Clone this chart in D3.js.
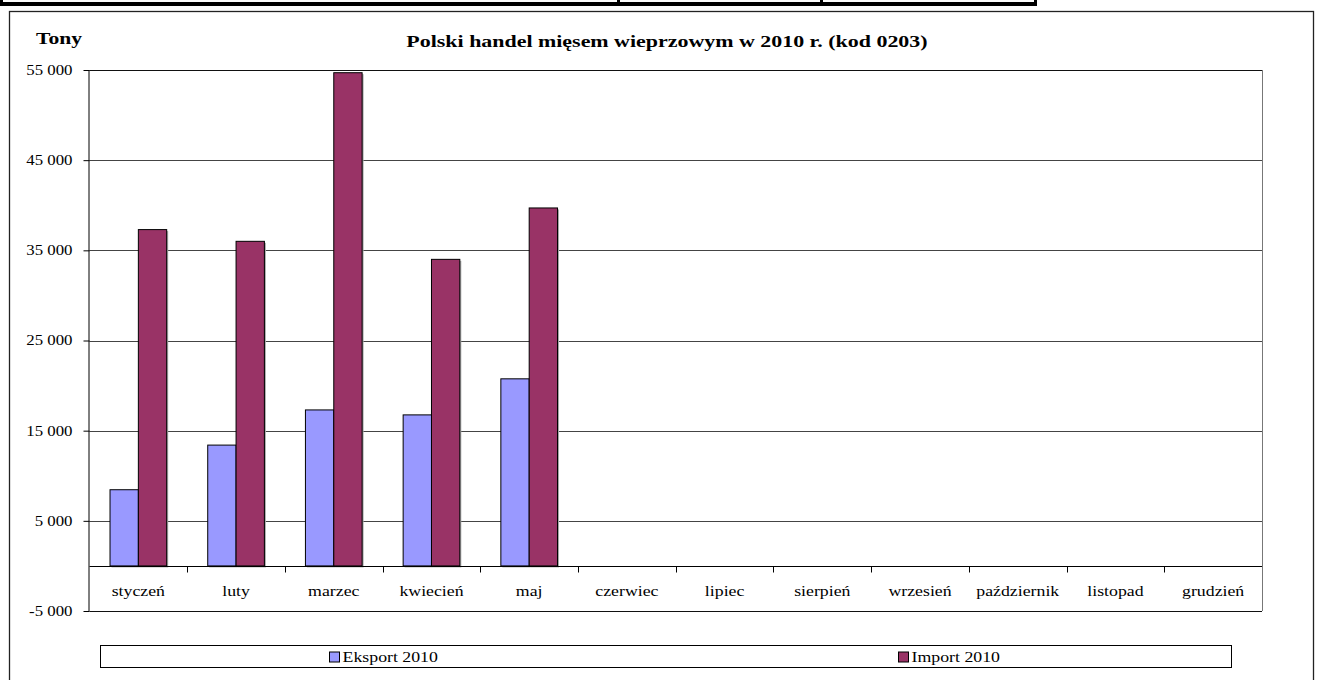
<!DOCTYPE html>
<html>
<head>
<meta charset="utf-8">
<script src="https://cdn.jsdelivr.net/npm/d3@7"></script>
<style>
  body { margin: 0; background: #fff; }
  svg text { font-family: "Liberation Serif", "Times New Roman", serif; fill: #000; }
</style>
</head>
<body>
<div id="chart"></div>
<script>
const width = 1319;
const height = 680;

// data (tonnes)
const months = ["styczeń", "luty", "marzec", "kwiecień", "maj", "czerwiec",
    "lipiec", "sierpień", "wrzesień", "październik", "listopad", "grudzień"];
const exportValues = [8450, 13400, 17300, 16750, 20750, null, null, null, null, null, null, null];
const importValues = [37300, 36000, 54700, 34000, 39700, null, null, null, null, null, null, null];
const seriesNames = ["Eksport 2010", "Import 2010"];
const seriesColors = ["#9999ff", "#993366"];
const yTicks = [-5000, 5000, 15000, 25000, 35000, 45000, 55000];

const svg = d3.select("#chart")
    .append("svg")
    .attr("width", width)
    .attr("height", height)
    .style("font-family", "'Liberation Serif', 'Times New Roman', serif");

// the original text is a bit wider than Times at the same height
function stretch(sel, k) {
    sel.each(function() {
        const len = this.getComputedTextLength();
        d3.select(this)
            .attr("textLength", len * k)
            .attr("lengthAdjust", "spacingAndGlyphs");
    });
}

// strip of the table above the chart
svg.append("rect").attr("x", 0).attr("y", 2).attr("width", 1037).attr("height", 4).attr("fill", "#000");
[0, 617, 820, 1034].forEach(x => {
    svg.append("rect").attr("x", x).attr("y", 0).attr("width", 3).attr("height", 6).attr("fill", "#000");
});

// outer chart frame
svg.append("rect")
    .attr("x", 9.5).attr("y", 11.5)
    .attr("width", 1304).attr("height", 700)
    .attr("fill", "none")
    .attr("stroke", "#222")
    .attr("stroke-width", 1.3);

const plot = { left: 89.5, right: 1262, top: 70, bottom: 611 };

const x = d3.scaleBand()
    .domain(months)
    .range([plot.left, plot.right])
    .paddingInner(0.42)
    .paddingOuter(0.21);

const xSub = d3.scaleBand()
    .domain([0, 1])
    .range([0, x.bandwidth()]);

const y = d3.scaleLinear()
    .domain([-5000, 55000])
    .range([plot.bottom, plot.top]);

// gridlines
svg.append("g")
    .selectAll("line")
    .data(yTicks)
    .join("line")
    .attr("x1", plot.left)
    .attr("x2", plot.right)
    .attr("y1", d => Math.round(y(d)) + 0.5)
    .attr("y2", d => Math.round(y(d)) + 0.5)
    .attr("stroke", (d, i) => i === 0 || i === yTicks.length - 1 ? "#111" : "#444")
    .attr("stroke-width", 1);

// right border of plot area
svg.append("line")
    .attr("x1", plot.right + 0.5).attr("x2", plot.right + 0.5)
    .attr("y1", plot.top).attr("y2", plot.bottom)
    .attr("stroke", "#777");

// bars
const groups = months.map((m, i) => ({ month: m, values: [exportValues[i], importValues[i]] }));

const g = svg.append("g")
    .selectAll("g")
    .data(groups)
    .join("g")
    .attr("transform", d => `translate(${x(d.month)},0)`);

const bars = g.selectAll("g")
    .data(d => d.values.map((v, k) => ({ k, v })).filter(e => e.v !== null))
    .join("g");

// faint shadow on the right side
bars.append("rect")
    .attr("x", d => xSub(d.k) + 1.5)
    .attr("y", d => y(d.v) + 1.5)
    .attr("width", xSub.bandwidth())
    .attr("height", d => y(0) - y(d.v))
    .attr("fill", "#aaa");

bars.append("rect")
    .attr("x", d => xSub(d.k))
    .attr("y", d => y(d.v))
    .attr("width", xSub.bandwidth())
    .attr("height", d => y(0) - y(d.v))
    .attr("fill", d => seriesColors[d.k])
    .attr("stroke", "#000")
    .attr("stroke-width", 1);

// y axis
const yAxis = d3.axisLeft(y)
    .tickValues(yTicks)
    .tickSize(6)
    .tickPadding(11)
    .tickFormat(d => d3.format(",")(d).replace(/,/g, " ").replace("\u2212", "-"));

svg.append("g")
    .attr("transform", `translate(${plot.left},0)`)
    .call(yAxis)
    .attr("font-family", null)
    .call(s => s.select(".domain").attr("stroke", "#000").attr("d", `M-0.5,${plot.bottom}V${plot.top}`))
    .call(s => s.selectAll(".tick line").attr("stroke", "#000"))
    .call(s => s.selectAll("text")
        .attr("font-size", 14)
        .attr("fill", "#000")
        .call(stretch, 1.2));

// x axis along zero
const xAxis = d3.axisBottom(x)
    .tickSize(0)
    .tickPadding(20);

const xg = svg.append("g")
    .attr("transform", `translate(0,${Math.round(y(0)) + 0.5})`)
    .call(xAxis)
    .attr("font-family", null);
xg.select(".domain").attr("stroke", "#000").attr("d", `M${plot.left},0H${plot.right}`);
xg.selectAll("text")
    .attr("font-size", 14)
    .attr("fill", "#000")
    .call(stretch, 1.27);

// category separators on the axis
xg.selectAll(".sep")
    .data(months.slice(1))
    .join("line")
    .attr("class", "sep")
    .attr("x1", d => Math.round(x(d) - x.step() * x.paddingInner() / 2) + 0.5)
    .attr("x2", d => Math.round(x(d) - x.step() * x.paddingInner() / 2) + 0.5)
    .attr("y1", 0)
    .attr("y2", 6)
    .attr("stroke", "#000");

// titles
svg.append("text")
    .attr("x", 36)
    .attr("y", 44)
    .attr("font-size", 17)
    .attr("font-weight", "bold")
    .text("Tony")
    .call(stretch, 1.27);

svg.append("text")
    .attr("x", 667)
    .attr("y", 47)
    .attr("text-anchor", "middle")
    .attr("font-size", 17)
    .attr("font-weight", "bold")
    .text("Polski handel mięsem wieprzowym w 2010 r. (kod 0203)")
    .call(stretch, 1.29);

// legend
const legend = { x: 100.5, y: 645.5, w: 1131, h: 22 };
svg.append("rect")
    .attr("x", legend.x).attr("y", legend.y)
    .attr("width", legend.w).attr("height", legend.h)
    .attr("fill", "#fff")
    .attr("stroke", "#000");

const items = svg.append("g")
    .selectAll("g")
    .data(seriesNames)
    .join("g");

items.append("text")
    .attr("y", legend.y + 16.5)
    .attr("font-size", 14)
    .text(d => d);

items.each(function(d, i) {
    const t = d3.select(this).select("text");
    const tw = t.node().getComputedTextLength() * 1.27;
    t.attr("textLength", tw).attr("lengthAdjust", "spacingAndGlyphs");
    const half = legend.w / 2;
    const total = 11 + 3 + tw;
    const start = legend.x + i * half + (half - total) / 2;
    d3.select(this).append("rect")
        .attr("x", Math.round(start) + 0.5)
        .attr("y", legend.y + 6.5)
        .attr("width", 10)
        .attr("height", 10)
        .attr("fill", seriesColors[i])
        .attr("stroke", "#000");
    t.attr("x", start + 14);
});
</script>
</body>
</html>
